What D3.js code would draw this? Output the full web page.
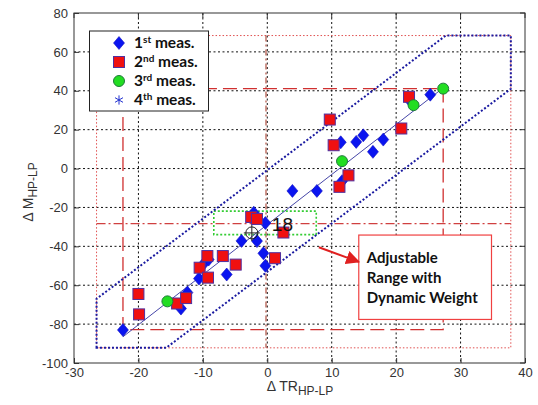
<!DOCTYPE html>
<html>
<head>
<meta charset="utf-8">
<script src="https://cdn.jsdelivr.net/npm/d3@7"></script>
<style>
body { margin: 0; background: #fff; }
svg { display: block; }
</style>
</head>
<body>
<svg width="538" height="405"></svg>
<script>
var meas1 = [
  [-22.4,-83], [-13.4,-72], [-12.4,-63.8], [-10.6,-56.6], [-10,-49.5], [-9.1,-46.8],
  [-6.3,-54.5], [-4,-37.2], [-2.1,-22.7], [-1.6,-37.3], [-0.3,-28], [-0.6,-43.6],
  [-0.3,-50], [3.9,-11.5], [7.7,-11.5], [11.6,-6.5], [11.4,13.5], [13.8,13.7],
  [14.9,17.1], [16.4,8.6], [18,14.9], [22.1,35.1], [25.3,38]
];
var meas2 = [
  [-20,-64.5], [-19.9,-75], [-14,-69.4], [-12.6,-66.6], [-10.5,-51], [-9.3,-45],
  [-9.2,-56.1], [-6.9,-45], [-4.9,-49.4], [-2.5,-24.9], [-1.6,-25.9], [2.5,-32.9],
  [1.2,-46.1], [9.7,25.2], [10.3,12], [11.2,-9.4], [12.6,-3.5], [20.8,20.6], [22,36.9]
];
var meas3 = [[-15.5,-68.3], [11.6,3.8], [22.7,32.6], [27.3,41.1]];
var meas4 = [];

var fitLine = [[-22.4,-86.5], [27.3,41.5]];
var band = [[-26.5,-92.2], [-26.5,-67], [27.7,68.4], [37.8,68.4], [37.8,41], [-15.7,-92.2]];
var outerBox = {x0: -26.5, x1: 37.8, y0: -92.2, y1: 68.4};
var innerBox = {x0: -22.4, x1: 27.3, y0: -82.8, y1: 41.1};
var centerCross = [-0.2, -28.3];
var greenBox = {x0: -8.3, x1: 7.6, y0: -34, y1: -21.9};
var selected = {x: -2.4, y: -33.1, label: "18"};

var xTicks = [-30,-20,-10,0,10,20,30,40];
var yTicks = [-100,-80,-60,-40,-20,0,20,40,60,80];

var noteLines = ["Adjustable", "Range with", "Dynamic Weight"];
var noteBox = {x0: 14.2, x1: 34.8, y0: -77.6, y1: -34.2};
var noteArrow = [[8, -40.5], [14.2, -48]];

var legendItems = [
  {n: "1", sup: "st", type: "diamond"},
  {n: "2", sup: "nd", type: "square"},
  {n: "3", sup: "rd", type: "circle"},
  {n: "4", sup: "th", type: "star"}
];

var svg = d3.select("svg");
var pLeft = 74, pRight = 525, pTop = 13, pBottom = 363;

var x = d3.scaleLinear().domain([-30, 40]).range([pLeft, pRight]);
var y = d3.scaleLinear().domain([-100, 80]).range([pBottom, pTop]);

// grid
var grid = svg.append("g").attr("stroke", "#111").attr("stroke-width", 1).attr("stroke-dasharray", "2,2.5");
grid.selectAll(".gx").data(xTicks.slice(1, -1)).enter().append("line")
  .attr("x1", function(d) { return x(d); }).attr("x2", function(d) { return x(d); })
  .attr("y1", pTop).attr("y2", pBottom);
grid.selectAll(".gy").data(yTicks.slice(1, -1)).enter().append("line")
  .attr("y1", function(d) { return y(d); }).attr("y2", function(d) { return y(d); })
  .attr("x1", pLeft).attr("x2", pRight);

function rect(g, b) {
  return g.append("rect")
    .attr("x", x(b.x0)).attr("y", y(b.y1))
    .attr("width", x(b.x1) - x(b.x0)).attr("height", y(b.y0) - y(b.y1))
    .attr("fill", "none");
}

// red dotted outer box
rect(svg, outerBox).attr("stroke", "#e05050").attr("stroke-width", 1).attr("stroke-dasharray", "1.5,2");

// dash-dot cross
svg.append("line")
  .attr("x1", x(outerBox.x0)).attr("x2", x(outerBox.x1))
  .attr("y1", y(centerCross[1])).attr("y2", y(centerCross[1]))
  .attr("stroke", "#d04040").attr("stroke-width", 1.2).attr("stroke-dasharray", "9,3,2,3");
svg.append("line")
  .attr("x1", x(centerCross[0])).attr("x2", x(centerCross[0]))
  .attr("y1", y(outerBox.y1)).attr("y2", y(outerBox.y0))
  .attr("stroke", "#b05040").attr("stroke-width", 1.2).attr("stroke-dasharray", "6,3,2,3");

// red long dashed inner box
rect(svg, innerBox).attr("stroke", "#d03030").attr("stroke-width", 1.3).attr("stroke-dasharray", "14,6");

// green dotted box
rect(svg, greenBox).attr("stroke", "#33cc33").attr("stroke-width", 1.6).attr("stroke-dasharray", "2,2");

var line = d3.line().x(function(d) { return x(d[0]); }).y(function(d) { return y(d[1]); });

// band polygon
svg.append("path").attr("d", line(band) + "Z")
  .attr("fill", "none").attr("stroke", "#1a1aa0").attr("stroke-width", 2).attr("stroke-dasharray", "2,2");

// fitted line
svg.append("path").attr("d", line(fitLine))
  .attr("fill", "none").attr("stroke", "#4646a8").attr("stroke-width", 1);

// markers
function drawDiamond(sel) {
  sel.append("path").attr("d", "M0,-6.5L5.5,0L0,6.5L-5.5,0Z")
    .attr("transform", function(d) { return "translate(" + x(d[0]) + "," + y(d[1]) + ")"; })
    .attr("fill", "#0a14f0").attr("stroke", "#1010c0").attr("stroke-width", 0.6);
}
function drawSquare(sel) {
  sel.append("rect")
    .attr("x", function(d) { return x(d[0]) - 5.5; }).attr("y", function(d) { return y(d[1]) - 5.5; })
    .attr("width", 11).attr("height", 11)
    .attr("fill", "#f01010").attr("stroke", "#5030a0").attr("stroke-width", 1);
}
function drawCircle(sel) {
  sel.append("circle")
    .attr("cx", function(d) { return x(d[0]); }).attr("cy", function(d) { return y(d[1]); })
    .attr("r", 5.5).attr("fill", "#22dd22").attr("stroke", "#1f7a3a").attr("stroke-width", 1);
}
var star = d3.symbol().type(d3.symbolAsterisk).size(60);
function drawStar(sel) {
  sel.append("path").attr("d", star)
    .attr("transform", function(d) { return "translate(" + x(d[0]) + "," + y(d[1]) + ")"; })
    .attr("fill", "none").attr("stroke", "#2030d0").attr("stroke-width", 1);
}

svg.append("g").selectAll("g").data(meas1).enter().append("g").call(drawDiamond);
svg.append("g").selectAll("g").data(meas2).enter().append("g").call(drawSquare);
svg.append("g").selectAll("g").data(meas3).enter().append("g").call(drawCircle);
svg.append("g").selectAll("g").data(meas4).enter().append("g").call(drawStar);

// selected point: circle with plus
var sx = x(selected.x), sy = y(selected.y);
svg.append("circle").attr("cx", sx).attr("cy", sy).attr("r", 6)
  .attr("fill", "none").attr("stroke", "#222").attr("stroke-width", 1);
svg.append("path").attr("d", "M" + (sx - 8) + "," + sy + "H" + (sx + 8) + "M" + sx + "," + (sy - 8) + "V" + (sy + 8))
  .attr("stroke", "#222").attr("stroke-width", 1);
svg.append("text").attr("x", sx + 20).attr("y", sy - 2)
  .attr("font-family", "Liberation Sans, Arial, sans-serif").attr("font-size", 19)
  .attr("fill", "#111").text(selected.label);

// axes frame and ticks
svg.append("rect").attr("x", pLeft).attr("y", pTop).attr("width", pRight - pLeft).attr("height", pBottom - pTop)
  .attr("fill", "none").attr("stroke", "#333").attr("stroke-width", 1);

var fmt = function(d) { return String(d); };
var xAxis = d3.axisBottom(x).tickValues(xTicks).tickFormat(fmt).tickSize(-5).tickPadding(5);
var yAxis = d3.axisLeft(y).tickValues(yTicks).tickFormat(fmt).tickSize(-5).tickPadding(6);
var xa = svg.append("g").attr("transform", "translate(0," + pBottom + ")").call(xAxis);
var ya = svg.append("g").attr("transform", "translate(" + pLeft + ",0)").call(yAxis);
[xa, ya].forEach(function(a) {
  a.select(".domain").remove();
  a.selectAll(".tick line").attr("stroke", "#333");
  a.selectAll(".tick text").attr("font-family", "Liberation Sans, Arial, sans-serif")
    .attr("font-size", 13).attr("fill", "#333");
});
// top / right ticks
svg.append("g").selectAll("line").data(xTicks).enter().append("line")
  .attr("x1", function(d) { return x(d); }).attr("x2", function(d) { return x(d); })
  .attr("y1", pTop).attr("y2", pTop + 5).attr("stroke", "#333");
svg.append("g").selectAll("line").data(yTicks).enter().append("line")
  .attr("y1", function(d) { return y(d); }).attr("y2", function(d) { return y(d); })
  .attr("x1", pRight).attr("x2", pRight - 5).attr("stroke", "#333");

// axis labels
var xl = svg.append("text").attr("x", 300).attr("y", 391).attr("text-anchor", "middle")
  .attr("font-family", "Liberation Sans, Arial, sans-serif").attr("font-size", 14).attr("fill", "#333");
xl.append("tspan").text("\u0394 TR");
xl.append("tspan").attr("dy", 4).attr("font-size", 12).text("HP-LP");

var yl = svg.append("text").attr("transform", "translate(33,192) rotate(-90)").attr("text-anchor", "middle")
  .attr("font-family", "Liberation Sans, Arial, sans-serif").attr("font-size", 14).attr("fill", "#333");
yl.append("tspan").text("\u0394 M");
yl.append("tspan").attr("dy", 4).attr("font-size", 12).text("HP-LP");

// legend
var lg = svg.append("g");
lg.append("rect").attr("x", 89.5).attr("y", 31).attr("width", 119).attr("height", 80)
  .attr("fill", "#fff").attr("stroke", "#222").attr("stroke-width", 1);
legendItems.forEach(function(it, i) {
  var ly = 43 + i * 19;
  var px = x.invert(119), py = y.invert(ly);
  var g = lg.append("g").datum([px, py]);
  if (it.type === "diamond") drawDiamond(g);
  if (it.type === "square") drawSquare(g);
  if (it.type === "circle") drawCircle(g);
  if (it.type === "star") drawStar(g);
  var t = lg.append("text").attr("x", 134).attr("y", ly + 5)
    .attr("font-family", "Lato, sans-serif").attr("font-weight", "bold").attr("font-size", 15.5).attr("fill", "#111");
  t.append("tspan").text(it.n);
  t.append("tspan").attr("dy", -5).attr("font-size", 10).text(it.sup);
  t.append("tspan").attr("dy", 5).text(" meas.");
});

// annotation
svg.append("rect").attr("x", x(noteBox.x0)).attr("y", y(noteBox.y1))
  .attr("width", x(noteBox.x1) - x(noteBox.x0)).attr("height", y(noteBox.y0) - y(noteBox.y1))
  .attr("fill", "#fff").attr("stroke", "#f04040").attr("stroke-width", 1.2);
noteLines.forEach(function(s, i) {
  svg.append("text").attr("x", x(noteBox.x0) + 8).attr("y", y(noteBox.y1) + 28 + i * 20)
    .attr("font-family", "Lato, sans-serif").attr("font-weight", "bold").attr("font-size", 15)
    .attr("fill", "#111").text(s);
});
svg.append("defs").append("marker").attr("id", "ah").attr("viewBox", "0 0 10 10")
  .attr("refX", 9).attr("refY", 5).attr("markerWidth", 7).attr("markerHeight", 7)
  .attr("orient", "auto").append("path").attr("d", "M0,0L10,5L0,10Z").attr("fill", "#e02020");
svg.append("path").attr("d", line(noteArrow)).attr("stroke", "#e02020").attr("stroke-width", 2)
  .attr("fill", "none").attr("marker-end", "url(#ah)");
</script>
</body>
</html>
